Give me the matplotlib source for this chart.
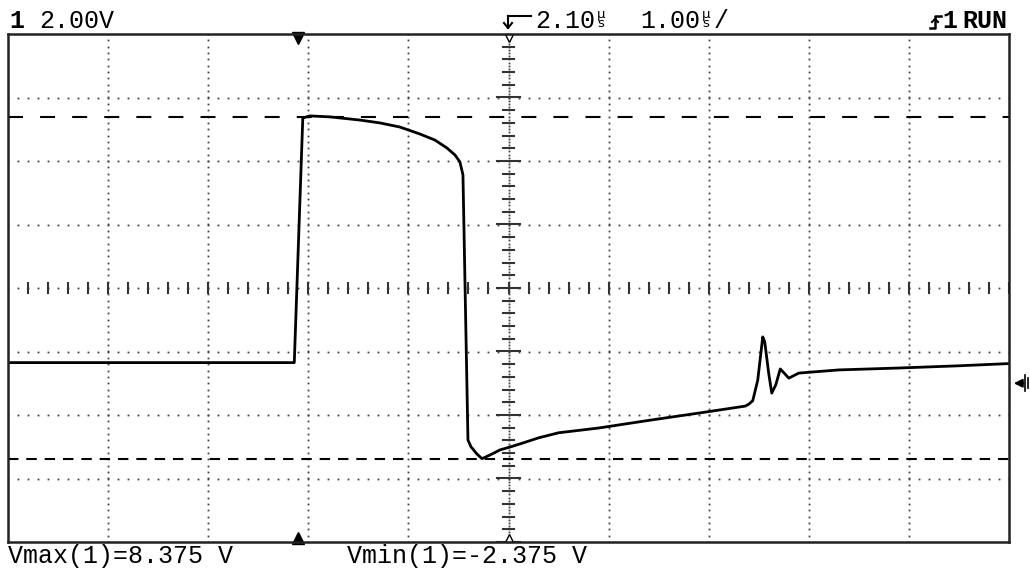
import numpy as np
import matplotlib.pyplot as plt
from matplotlib.transforms import IdentityTransform

# scope settings
volts_per_div = 2.00
us_per_div = 1.00
delay_us = 2.10
center_v = 3.0
trig_t = 0.0

# channel 1 trace (time in us, voltage in V)
t_us = [-2.9, -0.04, 0.045, 0.115, 0.315, 0.615, 0.815, 1.015, 1.215, 1.365,
        1.485, 1.565, 1.615, 1.645, 1.695, 1.725, 1.785, 1.835, 1.915, 2.015,
        2.145, 2.245, 2.4, 2.6, 3.0, 3.5, 4.0, 4.465, 4.5, 4.54, 4.59, 4.64,
        4.66, 4.70, 4.73, 4.77, 4.815, 4.86, 4.90, 5.0, 5.4, 6.0, 6.6, 7.1]
volts = [0.65, 0.65, 8.355, 8.42, 8.39, 8.29, 8.2, 8.07, 7.85, 7.66,
         7.41, 7.19, 6.97, 6.56, -1.79, -2.0, -2.23, -2.375, -2.26, -2.1,
         -1.98, -1.88, -1.72, -1.56, -1.41, -1.17, -0.94, -0.72, -0.66, -0.55, 0.1, 1.46,
         1.3, 0.3, -0.31, -0.05, 0.45, 0.3, 0.16, 0.32, 0.42, 0.48, 0.55, 0.62]

v_max = 8.375
v_min = -2.375

W, H = 1030, 572
fig = plt.figure(figsize=(W / 100, H / 100), dpi=100)
fig.patch.set_facecolor('white')
ax = fig.add_axes([8 / W, 30 / H, 1001 / W, 508 / H])

x0, x1 = delay_us - 5 * us_per_div, delay_us + 5 * us_per_div
y0, y1 = center_v - 4 * volts_per_div, center_v + 4 * volts_per_div
ax.set_xlim(x0, x1)
ax.set_ylim(y0, y1)
ax.set_xticks([])
ax.set_yticks([])
for s in ax.spines.values():
    s.set_linewidth(1.8)
    s.set_color('#222222')

dot = dict(linestyle='none', marker='s', ms=1.3, color='#444444', mew=0)

# dotted graticule
for k in range(1, 10):
    tx = x0 + k * us_per_div
    if abs(tx - delay_us) < 1e-6:
        continue
    ys = np.arange(y0, y1 + 1e-6, volts_per_div / 10)
    ax.plot(np.full_like(ys, tx), ys, **dot)
for k in range(1, 8):
    vy = y0 + k * volts_per_div
    if abs(vy - center_v) < 1e-6:
        continue
    xs = np.arange(x0, x1 + 1e-6, us_per_div / 10)
    ax.plot(xs, np.full_like(xs, vy), **dot)

# centre axes with ticks
xs = np.arange(x0, x1 + 1e-6, us_per_div / 10)
ax.plot(xs, np.full_like(xs, center_v), **dot)
for tx in np.arange(x0, x1 + 1e-6, us_per_div / 5):
    ax.plot([tx, tx], [center_v - 0.16, center_v + 0.16], color='#333333', lw=1.5)
ys = np.arange(y0, y1 + 1e-6, volts_per_div / 20)
ax.plot(np.full_like(ys, delay_us), ys, **dot)
for i, vy in enumerate(np.arange(y0, y1 + 1e-6, volts_per_div / 5)):
    half = 0.11 if i % 5 == 0 else 0.05
    ax.plot([delay_us - half, delay_us + half], [vy, vy], color='#333333', lw=1.5)

# measurement cursors
ax.axhline(v_max, color='black', lw=1.5, dashes=(7.2, 8.2))
ax.axhline(v_min, color='black', lw=1.5, dashes=(5.0, 3.8))

# trace
ax.plot(t_us, volts, color='black', lw=2.0)

# trigger / delay markers
ax.plot([trig_t], [y1 - 0.12], marker='v', ms=8, color='black', clip_on=False)
ax.plot([trig_t], [y0 + 0.12], marker='^', ms=8, color='black', clip_on=False)
ax.plot([delay_us], [y1 - 0.14], marker='v', ms=6, mfc='white', mec='black',
        mew=1, clip_on=False)
ax.plot([delay_us], [y0 + 0.14], marker='^', ms=6, mfc='white', mec='black',
        mew=1, clip_on=False)

# ground reference marker on the right
ax.annotate('', xy=(x1 + 0.02, 0), xytext=(x1 + 0.17, 0),
            arrowprops=dict(arrowstyle='-|>', color='black', lw=1.5,
                            mutation_scale=12),
            annotation_clip=False)
px = IdentityTransform()


def py(y):
    return H - y


def seg(xs_, ys_, lw=1.5):
    fig.add_artist(plt.Line2D(xs_, [py(v) for v in ys_], color='black',
                              lw=lw, transform=px))


seg([1025, 1025], [375, 391], 1.2)
seg([1028, 1028], [378, 388], 1.2)

# delay arrow: horizontal bar into a down arrow
seg([508, 531], [16, 16], 1.5)
seg([508, 508], [16, 28], 1.5)
seg([504, 508, 512], [23, 28, 23], 1.5)

# rising edge trigger symbol
seg([930, 935, 935, 941], [28, 28, 16, 16], 1.8)
seg([932, 935, 938], [22, 19, 22], 1.5)

mono = 'Liberation Mono'


def label(x, y, s, **kw):
    fig.text(x / W, 1 - y / H, s, family=mono, fontsize=18, va='baseline',
             ha='left', **kw)


def unit(x, y, s):
    # stacked unit glyph like the scope's one-cell "us"
    fig.text(x / W, 1 - y / H, s, family='DejaVu Sans', fontsize=9.5,
             va='bottom', ha='left', linespacing=0.62)


label(9, 28, '1', weight='bold')
label(39, 28, '2.00V')
label(535, 28, '2.10')
unit(597, 30, '\u00b5\ns')
label(640, 28, '1.00')
unit(702, 30, '\u00b5\ns')
label(714, 28, '/')
label(942, 28, '1', weight='bold')
label(962, 28, 'RUN', weight='bold')

label(8, 563, 'Vmax(1)=8.375 V')
label(347, 563, 'Vmin(1)=-2.375 V')

fig.savefig('out.png', dpi=100)
